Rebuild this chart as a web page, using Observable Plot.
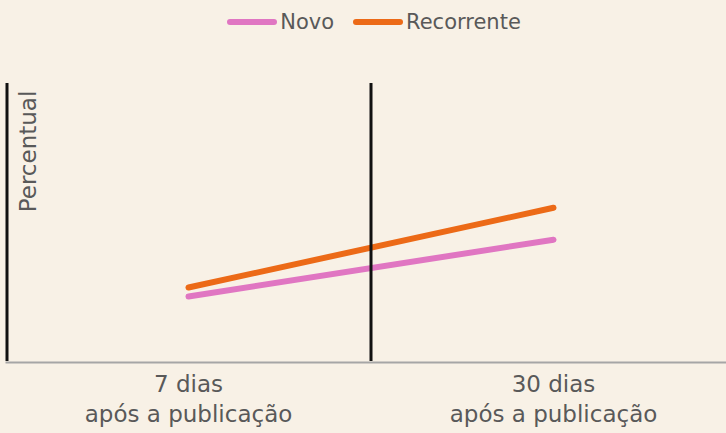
<!DOCTYPE html>
<html>
<head>
<meta charset="utf-8">
<script src="https://cdn.jsdelivr.net/npm/d3@7"></script>
<script src="https://cdn.jsdelivr.net/npm/@observablehq/plot@0.6"></script>
<style>
  html, body { margin: 0; padding: 0; background: #f8f1e6; }
  body { width: 726px; height: 433px; overflow: hidden; font-family: "DejaVu Sans", sans-serif; }
  #legend { height: 44px; display: flex; justify-content: center; align-items: center; gap: 19px; color: #595959; font-size: 21px; padding-left: 22px; box-sizing: border-box; }
  .item { display: flex; align-items: center; }
  .swatch { width: 50px; height: 6px; border-radius: 3px; margin-right: 3px; }
</style>
</head>
<body>
<div id="legend"></div>
<div id="chart"></div>
<script>
const categories = ["7 dias\napós a publicação", "30 dias\napós a publicação"];
const seriesNames = ["Novo", "Recorrente"];
const novo = [23.4, 43.8];
const recorrente = [26.6, 55.3];
const colors = ["#e076c2", "#ec6a17"];

const data = [];
[novo, recorrente].forEach((vals, s) => vals.forEach((v, i) => data.push({series: seriesNames[s], idx: i, value: v})));

const legend = document.getElementById("legend");
seriesNames.forEach((n, i) => {
  const it = document.createElement("div");
  it.className = "item";
  it.innerHTML = `<span class="swatch" style="background:${colors[i]}"></span><span>${n}</span>`;
  legend.appendChild(it);
});

const mid = (categories.length - 1) / 2;
const x0 = -0.5, x1 = categories.length - 0.5;
const chart = Plot.plot({
  width: 726,
  height: 389,
  marginTop: 39,
  marginBottom: 72,
  marginLeft: 6,
  marginRight: 0,
  style: {background: "transparent", fontFamily: "DejaVu Sans, sans-serif", color: "#595959"},
  x: {domain: [x0, x1], range: [5.5, 735.5]},
  y: {domain: [0, 100], range: [317, 39]},
  color: {domain: seriesNames, range: colors},
  marks: [
    Plot.ruleY([0], {stroke: "#a6a6a6", strokeWidth: 2, x1: x0, x2: x1, dy: 1}),
    Plot.line(data, {x: "idx", y: "value", z: "series", stroke: "series", strokeWidth: 6, strokeLinecap: "round"}),
    Plot.ruleX([x0], {y1: 0, y2: 100, stroke: "#111", strokeWidth: 3, dx: 1}),
    Plot.ruleX([mid], {y1: 0, y2: 100, stroke: "#111", strokeWidth: 3}),
    Plot.text(categories, {x: (d, i) => i, frameAnchor: "bottom", dy: 60, text: d => d, fontSize: 23, fill: "#595959", lineHeight: 1.3, lineAnchor: "bottom"}),
    Plot.text(["Percentual"], {frameAnchor: "top-left", dx: 22, dy: 68, rotate: -90, fontSize: 23, fill: "#595959", textAnchor: "middle", lineAnchor: "middle"})
  ],
  axis: null
});
document.getElementById("chart").appendChild(chart);
</script>
</body>
</html>
